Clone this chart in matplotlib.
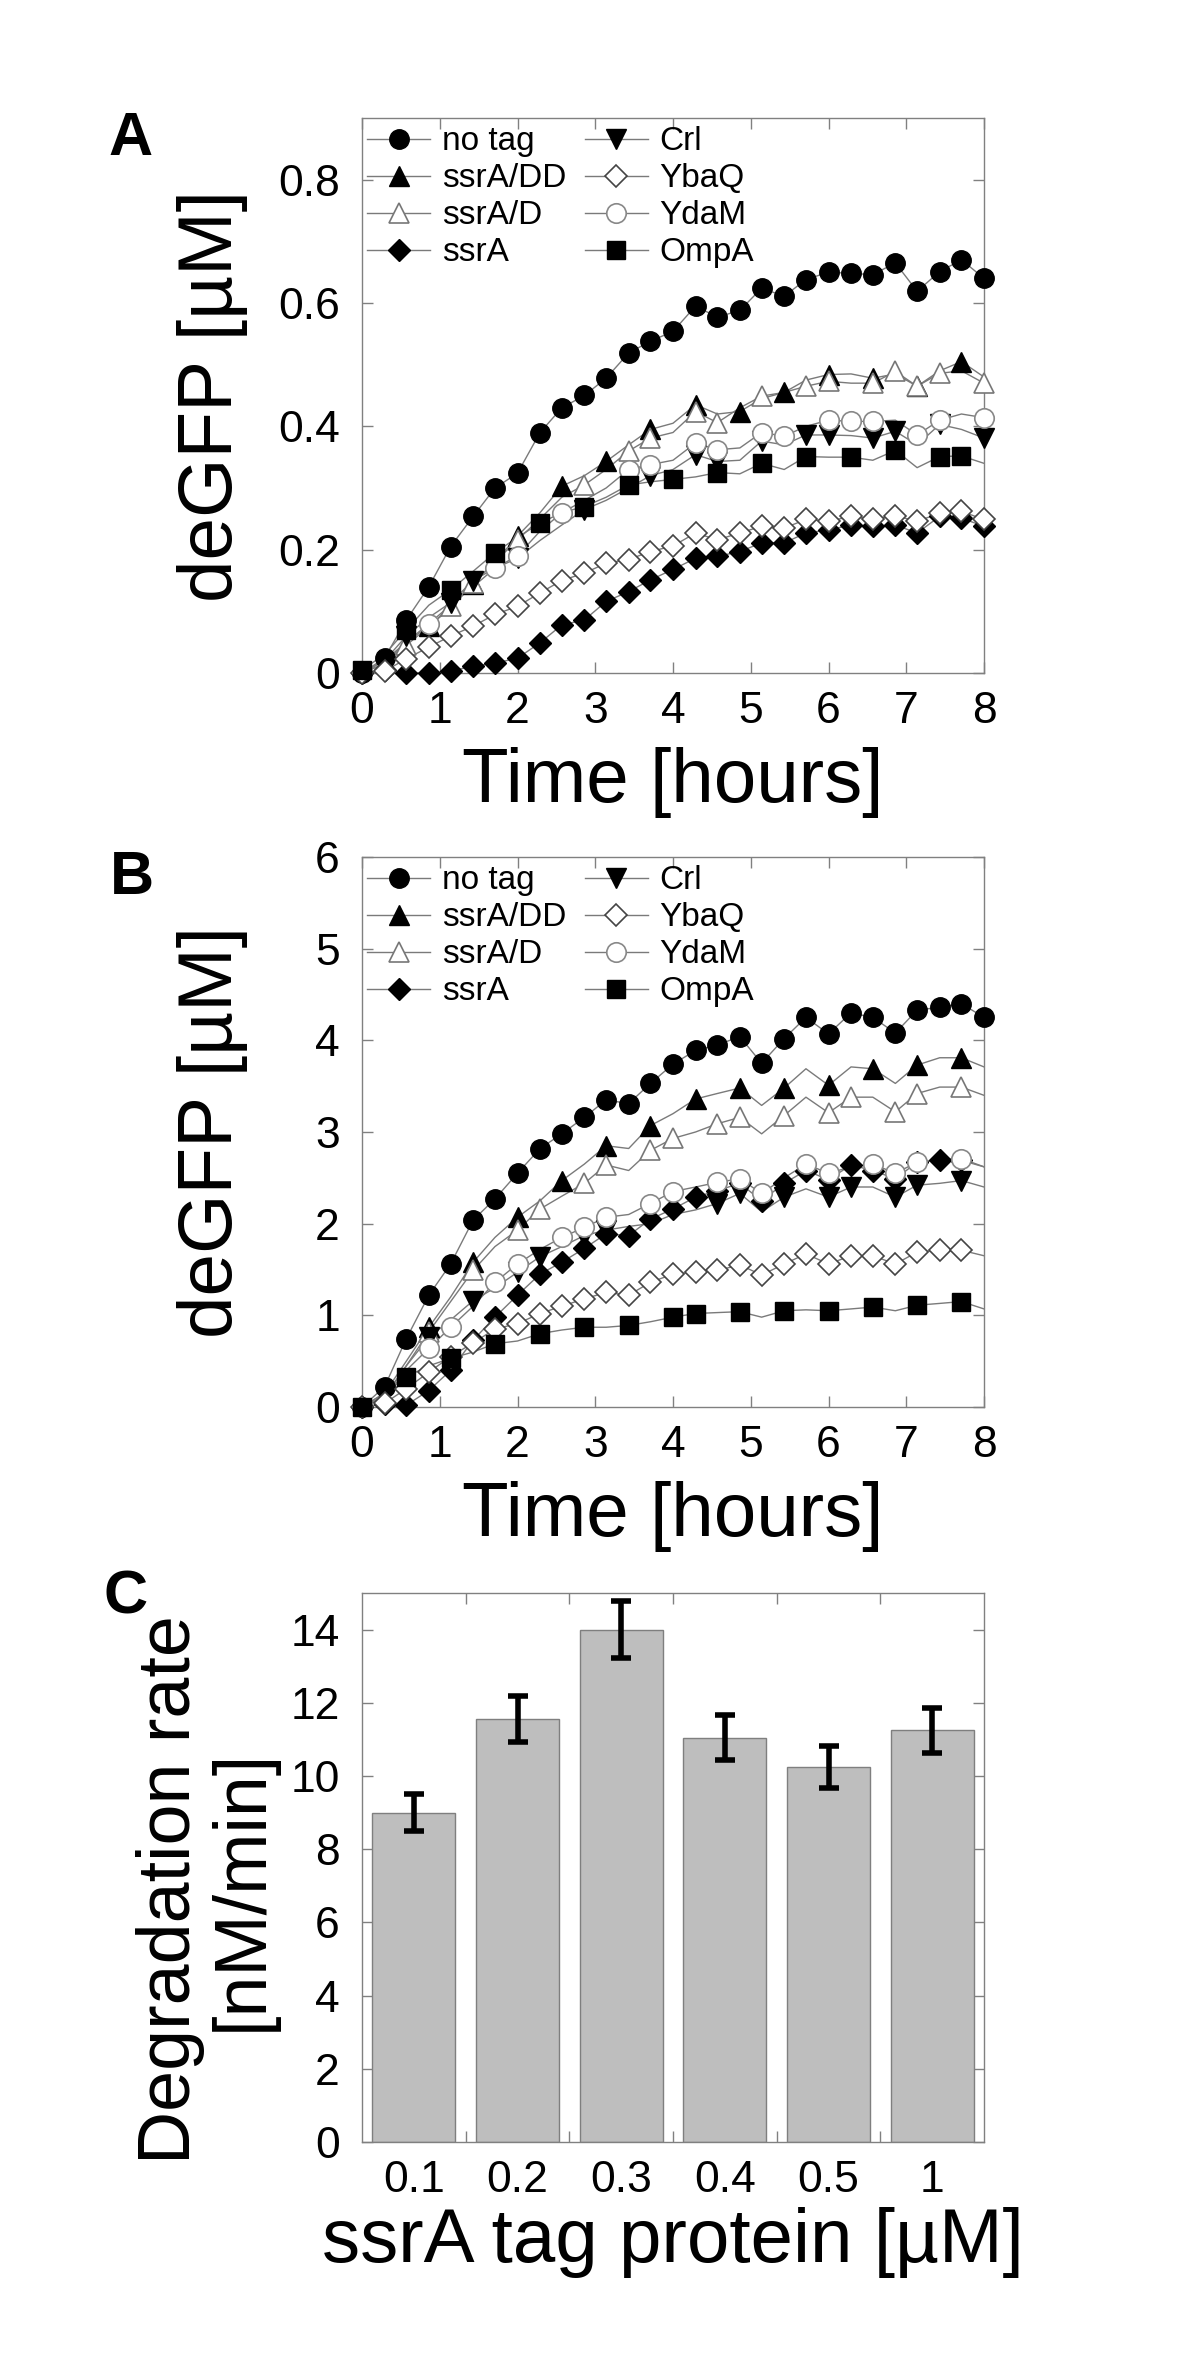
import numpy as np
import matplotlib
matplotlib.use('Agg')
import matplotlib.pyplot as plt
from matplotlib.lines import Line2D
from matplotlib.ticker import FixedLocator, FixedFormatter

plt.rcParams['font.family'] = ['Liberation Sans', 'DejaVu Sans']

# sampling times (hours)
time_h = [0, 0.29, 0.57, 0.86, 1.14, 1.43, 1.71, 2.0, 2.29, 2.57, 2.86, 3.14, 3.43, 3.71, 4.0,
          4.29, 4.57, 4.86, 5.14, 5.43, 5.71, 6.0, 6.29, 6.57, 6.86, 7.14, 7.43, 7.71, 8.0]

labels = ['no tag', 'ssrA/DD', 'ssrA/D', 'ssrA', 'Crl', 'YbaQ', 'YdaM', 'OmpA']

# Panel A: deGFP [uM]
a_notag = [0.0, 0.024, 0.086, 0.14, 0.205, 0.254, 0.30, 0.324, 0.39, 0.43, 0.45, 0.478, 0.519, 0.538, 0.554,
           0.595, 0.577, 0.588, 0.624, 0.611, 0.638, 0.65, 0.648, 0.646, 0.665, 0.619, 0.651, 0.67, 0.64]
a_ssra_dd = [0, 0.02, 0.05, 0.076, 0.105, 0.145, 0.18, 0.222, 0.26, 0.303, 0.32, 0.343, 0.37, 0.395, 0.405,
             0.435, 0.42, 0.424, 0.445, 0.455, 0.475, 0.484, 0.485, 0.478, 0.485, 0.465, 0.49, 0.505, 0.48]
a_ssra_d = [0, 0.015, 0.045, 0.075, 0.108, 0.146, 0.18, 0.216, 0.25, 0.285, 0.305, 0.33, 0.36, 0.381, 0.39,
            0.424, 0.406, 0.43, 0.449, 0.455, 0.465, 0.473, 0.47, 0.47, 0.489, 0.465, 0.486, 0.49, 0.47]
a_ssra = [0, 0.005, 0.0, 0.0, 0.003, 0.011, 0.016, 0.024, 0.049, 0.078, 0.086, 0.116, 0.132, 0.151, 0.168,
          0.186, 0.189, 0.197, 0.211, 0.211, 0.227, 0.232, 0.24, 0.238, 0.24, 0.227, 0.254, 0.251, 0.238]
a_crl = [0, 0.02, 0.06, 0.09, 0.114, 0.15, 0.17, 0.186, 0.215, 0.24, 0.265, 0.28, 0.30, 0.32, 0.33,
         0.354, 0.343, 0.345, 0.376, 0.37, 0.386, 0.386, 0.385, 0.381, 0.392, 0.37, 0.403, 0.395, 0.381]
a_ybaq = [0, 0.003, 0.023, 0.042, 0.06, 0.076, 0.095, 0.108, 0.13, 0.15, 0.162, 0.178, 0.184, 0.197, 0.206,
          0.227, 0.216, 0.227, 0.238, 0.235, 0.249, 0.246, 0.254, 0.249, 0.255, 0.246, 0.259, 0.262, 0.249]
a_ydam = [0, 0.015, 0.05, 0.08, 0.11, 0.14, 0.17, 0.19, 0.23, 0.26, 0.28, 0.30, 0.33, 0.338, 0.345,
          0.373, 0.362, 0.365, 0.39, 0.384, 0.40, 0.41, 0.408, 0.408, 0.41, 0.386, 0.41, 0.42, 0.414]
a_ompa = [0.005, 0.03, 0.07, 0.11, 0.135, 0.165, 0.195, 0.22, 0.243, 0.26, 0.27, 0.285, 0.305, 0.31, 0.314,
          0.318, 0.325, 0.323, 0.34, 0.33, 0.351, 0.35, 0.35, 0.345, 0.361, 0.333, 0.351, 0.352, 0.34]

# which samples carry a marker (the line goes through all of them)
a_marks = {
    'no tag': list(range(29)),
    'ssrA/DD': [3, 5, 7, 9, 11, 13, 15, 17, 19, 21, 23, 25, 27],
    'ssrA/D': [2, 4, 5, 7, 10, 12, 13, 15, 16, 18, 20, 21, 23, 24, 25, 26, 28],
    'ssrA': list(range(29)),
    'Crl': [2, 4, 5, 7, 10, 13, 15, 16, 18, 20, 21, 23, 24, 26, 28],
    'YbaQ': list(range(29)),
    'YdaM': [3, 6, 7, 9, 12, 13, 15, 16, 18, 19, 21, 22, 23, 25, 26, 28],
    'OmpA': [0, 2, 4, 6, 8, 10, 12, 14, 16, 18, 20, 22, 24, 26, 27],
}

# Panel B: deGFP [uM]
b_notag = [0, 0.22, 0.745, 1.22, 1.56, 2.04, 2.27, 2.55, 2.82, 2.98, 3.16, 3.35, 3.31, 3.53, 3.74,
           3.89, 3.95, 4.04, 3.75, 4.02, 4.25, 4.07, 4.3, 4.25, 4.08, 4.33, 4.36, 4.4, 4.25]
b_ssra_dd = [0, 0.15, 0.5, 0.87, 1.2, 1.58, 1.85, 2.07, 2.25, 2.47, 2.65, 2.85, 2.82, 3.07, 3.2,
             3.36, 3.42, 3.48, 3.29, 3.48, 3.69, 3.51, 3.71, 3.69, 3.53, 3.73, 3.81, 3.81, 3.71]
b_ssra_d = [0, 0.12, 0.45, 0.82, 1.15, 1.49, 1.75, 1.93, 2.16, 2.3, 2.44, 2.64, 2.58, 2.8, 2.93,
            3.0, 3.09, 3.16, 2.98, 3.18, 3.38, 3.21, 3.38, 3.38, 3.22, 3.42, 3.49, 3.49, 3.4]
b_ssra = [0, 0.03, 0.02, 0.18, 0.4, 0.73, 0.98, 1.22, 1.45, 1.58, 1.73, 1.89, 1.87, 2.05, 2.16,
          2.29, 2.36, 2.44, 2.25, 2.44, 2.58, 2.48, 2.64, 2.58, 2.49, 2.67, 2.69, 2.69, 2.62]
b_crl = [0, 0.1, 0.45, 0.76, 0.95, 1.16, 1.3, 1.47, 1.64, 1.75, 1.87, 1.93, 1.97, 2.0, 2.1,
         2.15, 2.22, 2.33, 2.13, 2.29, 2.38, 2.29, 2.4, 2.4, 2.29, 2.42, 2.44, 2.47, 2.4]
b_ybaq = [0, 0.04, 0.2, 0.38, 0.55, 0.7, 0.85, 0.91, 1.02, 1.1, 1.18, 1.25, 1.22, 1.36, 1.45,
          1.47, 1.49, 1.55, 1.44, 1.56, 1.67, 1.56, 1.65, 1.65, 1.56, 1.69, 1.71, 1.71, 1.65]
b_ydam = [0, 0.1, 0.4, 0.64, 0.87, 1.1, 1.36, 1.56, 1.72, 1.85, 1.96, 2.07, 2.1, 2.22, 2.35,
          2.4, 2.45, 2.49, 2.33, 2.5, 2.65, 2.55, 2.62, 2.65, 2.55, 2.67, 2.7, 2.71, 2.62]
b_ompa = [0, 0.15, 0.33, 0.45, 0.53, 0.6, 0.69, 0.72, 0.8, 0.84, 0.87, 0.87, 0.89, 0.93, 0.98,
          1.02, 1.03, 1.04, 0.98, 1.05, 1.06, 1.05, 1.07, 1.09, 1.05, 1.11, 1.13, 1.15, 1.07]

b_marks = {
    'no tag': list(range(29)),
    'ssrA/DD': [3, 5, 7, 9, 11, 13, 15, 17, 19, 21, 23, 25, 27],
    'ssrA/D': [3, 5, 7, 8, 10, 11, 13, 14, 16, 17, 19, 21, 22, 24, 25, 27],
    'ssrA': list(range(28)),
    'Crl': [3, 5, 7, 8, 10, 11, 16, 17, 19, 21, 22, 24, 25, 27],
    'YbaQ': list(range(28)),
    'YdaM': [3, 4, 6, 7, 9, 10, 11, 13, 14, 16, 17, 18, 20, 21, 23, 24, 25, 27],
    'OmpA': [0, 2, 4, 6, 8, 10, 12, 14, 15, 17, 19, 21, 23, 25, 27],
}

# Panel C: degradation rate
conc_labels = ['0.1', '0.2', '0.3', '0.4', '0.5', '1']
rate = [9.0, 11.55, 14.0, 11.05, 10.25, 11.25]
rate_err = [0.5, 0.63, 0.77, 0.62, 0.58, 0.62]

# marker styles per series
styles = {
    'no tag': dict(marker='o', ms=14, mfc='black', mec='black', mew=1),
    'ssrA/DD': dict(marker='^', ms=15, mfc='black', mec='black', mew=1),
    'ssrA/D': dict(marker='^', ms=15, mfc='white', mec='#777777', mew=1.2),
    'ssrA': dict(marker='D', ms=11, mfc='black', mec='black', mew=1),
    'Crl': dict(marker='v', ms=15, mfc='black', mec='black', mew=1),
    'YbaQ': dict(marker='D', ms=11, mfc='white', mec='#444444', mew=1.2),
    'YdaM': dict(marker='o', ms=14, mfc='white', mec='#888888', mew=1.2),
    'OmpA': dict(marker='s', ms=13, mfc='black', mec='black', mew=1),
}
line_col = '#7a7a7a'
spine_col = '#808080'

W, H = 1200, 2380
fig = plt.figure(figsize=(W / 100, H / 100), dpi=100)


def add_ax(x0, y0, x1, y1):
    return fig.add_axes([x0 / W, 1 - y1 / H, (x1 - x0) / W, (y1 - y0) / H])


def style_axes(ax):
    for s in ax.spines.values():
        s.set_color(spine_col)
        s.set_linewidth(1.0)
    ax.tick_params(which='both', direction='in', length=8, width=1, color=spine_col,
                   top=True, right=True, labelsize=32)
    ax.tick_params(axis='x', pad=13)
    ax.tick_params(axis='y', pad=16)


def time_panel(ax, series, marks, ylim, yticks, yticklabels):
    for name, vals in zip(labels, series):
        ax.plot(time_h, vals, color=line_col, lw=1.0, zorder=2, clip_on=False)
        idx = marks[name]
        ax.plot([time_h[i] for i in idx], [vals[i] for i in idx], ls='none', zorder=3,
                clip_on=False, **styles[name])
    ax.set_xlim(0, 8)
    ax.set_ylim(*ylim)
    ax.set_xticks(range(9))
    ax.yaxis.set_major_locator(FixedLocator(yticks))
    ax.yaxis.set_major_formatter(FixedFormatter(yticklabels))
    style_axes(ax)
    handles = [Line2D([], [], color=line_col, lw=1.0, **styles[n]) for n in labels]
    ax.legend(handles, labels, ncol=2, loc='upper left', bbox_to_anchor=(0.008, 0.985),
              frameon=False, fontsize=24, handlelength=1.9, handletextpad=0.35,
              columnspacing=0.55, labelspacing=0.18, borderpad=0, borderaxespad=0)


# ---- A
axA = add_ax(362, 118, 984, 673)
time_panel(axA, [a_notag, a_ssra_dd, a_ssra_d, a_ssra, a_crl, a_ybaq, a_ydam, a_ompa],
           a_marks, (0, 0.9), [0, 0.2, 0.4, 0.6, 0.8], ['0', '0.2', '0.4', '0.6', '0.8'])

# ---- B
axB = add_ax(362, 857, 984, 1407)
time_panel(axB, [b_notag, b_ssra_dd, b_ssra_d, b_ssra, b_crl, b_ybaq, b_ydam, b_ompa],
           b_marks, (0, 6), [0, 1, 2, 3, 4, 5, 6], ['0', '1', '2', '3', '4', '5', '6'])

# ---- C
axC = add_ax(362, 1593, 984, 2142)
xpos = np.arange(1, len(rate) + 1)
axC.bar(xpos, rate, width=0.8, color='#bebebe', edgecolor='#7f7f7f', linewidth=1.0, zorder=2)
axC.errorbar(xpos, rate, yerr=rate_err, fmt='none', ecolor='black', elinewidth=4,
             capsize=7, capthick=4, zorder=3)
axC.set_xlim(0.5, len(rate) + 0.5)
axC.set_ylim(0, 15)
axC.set_yticks(range(0, 15, 2))
axC.set_xticks(xpos)
axC.set_xticklabels(conc_labels)
axC.set_xticks(xpos[:-1] + 0.5, minor=True)
style_axes(axC)
axC.tick_params(axis='x', which='major', length=0)

# ---- axis titles and panel letters (pixel positions)
big = 55


def ftext(x, y, s, **kw):
    return fig.text(x / W, 1 - y / H, s, **kw)


ftext(673, 802, 'Time [hours]', fontsize=big, ha='center', va='baseline')
ftext(673, 1536, 'Time [hours]', fontsize=big, ha='center', va='baseline')
ftext(673, 2262, 'ssrA tag protein [µM]', fontsize=big, ha='center', va='baseline')
ftext(212, 396, 'deGFP [µM]', fontsize=big, rotation=90, ha='center', va='center')
ftext(212, 1132, 'deGFP [µM]', fontsize=big, rotation=90, ha='center', va='center')
ftext(206, 1890, 'Degradation rate\n[nM/min]', fontsize=53, rotation=90, ha='center',
      va='center', linespacing=1.05, multialignment='center')

ftext(108, 155, 'A', fontsize=44, fontweight='bold', ha='left', va='baseline')
ftext(110, 894, 'B', fontsize=44, fontweight='bold', ha='left', va='baseline')
ftext(104, 1614, 'C', fontsize=44, fontweight='bold', ha='left', va='baseline')

fig.savefig('out.png', dpi=100, facecolor='white')
